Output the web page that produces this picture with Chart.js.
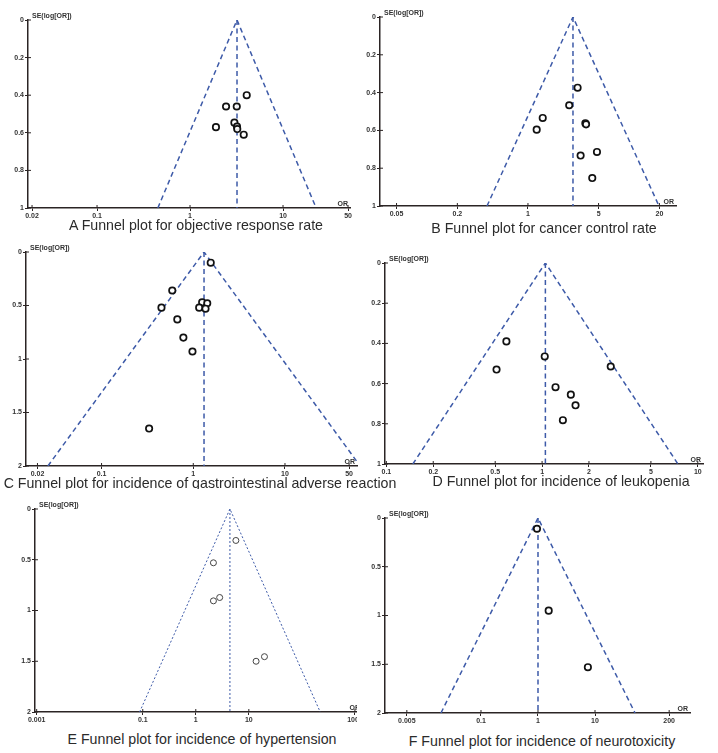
<!DOCTYPE html>
<html>
<head>
<meta charset="utf-8">
<script src="https://cdn.jsdelivr.net/npm/chart.js@4.4.1/dist/chart.umd.min.js"></script>
<style>
  body { margin: 0; background: #fff; }
  #page { position: relative; width: 718px; height: 753px; overflow: hidden; background: #fff; }
  canvas { position: absolute; }
  .cap { position: absolute; white-space: nowrap; transform: translate(-50%, -50%);
         font-family: "Liberation Sans", Arial, sans-serif; font-size: 14.2px; color: #2b2b2b; z-index: 1; }
</style>
</head>
<body>
<div id="page"></div>
<script>
// study estimates (OR, SE of log OR)
var orA = [4.07, 2.44, 3.18, 1.90, 3.00, 3.20, 3.22, 3.78];
var seA = [0.40, 0.46, 0.46, 0.57, 0.546, 0.567, 0.58, 0.61];

var orB = [3.10, 2.56, 1.40, 1.22, 3.70, 3.76, 3.32, 4.82, 4.33];
var seB = [0.374, 0.467, 0.534, 0.596, 0.562, 0.568, 0.733, 0.714, 0.852];

var orC = [1.55, 0.59, 0.45, 1.25, 1.42, 1.16, 1.36, 0.67, 0.78, 0.98, 0.33];
var seC = [0.10, 0.36, 0.52, 0.47, 0.48, 0.52, 0.53, 0.63, 0.80, 0.93, 1.65];

var orD = [0.59, 0.51, 1.04, 2.76, 1.22, 1.53, 1.64, 1.36];
var seD = [0.39, 0.53, 0.465, 0.515, 0.618, 0.655, 0.708, 0.782];

var orE = [5.7, 2.15, 2.15, 2.82, 13.7, 19.7];
var seE = [0.31, 0.53, 0.905, 0.872, 1.50, 1.455];

var orF = [0.96, 1.54, 7.5];
var seF = [0.11, 0.95, 1.53];

// pooled OR (apex of each funnel)
var pooledOR = [3.2, 2.79, 1.31, 1.05, 4.4, 1.0];

// axis ticks
var xTicksA = [0.02, 0.1, 1, 10, 50];
var xTicksB = [0.05, 0.2, 1, 5, 20];
var xTicksC = [0.02, 0.1, 1, 10, 50];
var xTicksD = [0.1, 0.2, 0.5, 1, 2, 5, 10];
var xTicksE = [0.001, 0.1, 1, 10, 1000];
var xTicksF = [0.005, 0.1, 1, 10, 200];
var seMax = [1, 1, 2, 1, 2, 2];
var seStep = [0.2, 0.2, 0.5, 0.2, 0.5, 0.5];

var captions = [
  "A Funnel plot for objective response rate",
  "B Funnel plot for cancer control rate",
  "C Funnel plot for incidence of gastrointestinal adverse reaction",
  "D Funnel plot for incidence of leukopenia",
  "E Funnel plot for incidence of hypertension",
  "F Funnel plot for incidence of neurotoxicity"
];

// layout of each panel (page pixels for the plot area)
var panels = [
  { or: orA, se: seA, xt: xTicksA, box: [28, 20, 350, 208], xmin: 0.0181, xmax: 52.5, cap: [196, 225], padT: 14, z: 0 },
  { or: orB, se: seB, xt: xTicksB, box: [380, 17, 676, 206], xmin: 0.0343, xmax: 29.2, cap: [544, 228], padT: 14, z: 0 },
  { or: orC, se: seC, xt: xTicksC, box: [26, 252, 357, 466], xmin: 0.015, xmax: 61, cap: [200, 483], padT: 14, z: 0 },
  { or: orD, se: seD, xt: xTicksD, box: [385, 263, 703, 464], xmin: 0.098, xmax: 10.8, cap: [561, 481], padT: 14, z: 0 },
  { or: orE, se: seE, xt: xTicksE, box: [35, 509, 362, 712], xmin: 0.00093, xmax: 1360, cap: [202, 739], padT: 20, z: 2, thin: true },
  { or: orF, se: seF, xt: xTicksF, box: [385, 518, 690, 713], xmin: 0.00207, xmax: 464, cap: [542, 741], padT: 14, z: 3 }
];

var axisColor = '#2b2424';
var funnelColor = '#3d5aa8';
var tickFont = { family: 'Liberation Sans', size: 7, weight: 'bold' };

var axisDecor = {
  id: 'axisDecor',
  afterDraw: function(chart) {
    var ctx = chart.ctx, a = chart.chartArea;
    var xs = chart.scales.x, ys = chart.scales.y;
    ctx.save();
    ctx.strokeStyle = axisColor;
    ctx.lineWidth = 1;
    xs.ticks.forEach(function(t) {
      var px = xs.getPixelForValue(t.value);
      ctx.beginPath(); ctx.moveTo(px, a.bottom); ctx.lineTo(px, a.bottom - 3); ctx.stroke();
    });
    ys.ticks.forEach(function(t) {
      var py = ys.getPixelForValue(t.value);
      ctx.beginPath(); ctx.moveTo(a.left, py); ctx.lineTo(a.left + 3, py); ctx.stroke();
    });
    ctx.fillStyle = '#333';
    ctx.font = 'bold 7px "Liberation Sans"';
    ctx.textAlign = 'left';
    ctx.textBaseline = 'alphabetic';
    ctx.fillText('SE(log[OR])', a.left + 4, a.top - 2);
    ctx.textAlign = 'right';
    ctx.fillText('OR', a.right - 2, a.bottom - 2);
    ctx.restore();
  }
};

var page = document.getElementById('page');

panels.forEach(function(p, i) {
  var padL = 2, yW = 26, padR = 14, xH = 13, padB = 2;
  var cl = p.box[0] - yW - padL, ct = p.box[1] - p.padT;
  var w = p.box[2] - p.box[0] + yW + padL + padR;
  var h = p.box[3] - p.box[1] + p.padT + xH + padB;

  var cv = document.createElement('canvas');
  cv.width = w; cv.height = h;
  cv.style.left = cl + 'px'; cv.style.top = ct + 'px';
  cv.style.zIndex = p.z;
  if (p.z > 0) cv.style.background = '#fff';
  page.appendChild(cv);

  var cap = document.createElement('div');
  cap.className = 'cap';
  cap.textContent = captions[i];
  cap.style.left = p.cap[0] + 'px'; cap.style.top = p.cap[1] + 'px';
  page.appendChild(cap);

  var pooled = pooledOR[i], sm = seMax[i], k = Math.exp(1.96 * sm);
  var pts = p.or.map(function(v, j) { return { x: v, y: p.se[j] }; });

  new Chart(cv, {
    type: 'scatter',
    data: {
      datasets: [
        {
          data: pts,
          pointRadius: p.thin ? 3 : 3.2,
          pointBorderWidth: p.thin ? 1 : 1.7,
          pointBorderColor: p.thin ? '#444' : '#111',
          pointBackgroundColor: 'rgba(255,255,255,0.9)'
        },
        {
          data: [{ x: pooled / k, y: sm }, { x: pooled, y: 0 }, { x: pooled * k, y: sm }],
          showLine: true, pointRadius: 0,
          borderColor: funnelColor,
          borderWidth: p.thin ? 1 : 1.5,
          borderDash: p.thin ? [2, 2] : [5, 3.5]
        },
        {
          data: [{ x: pooled, y: 0 }, { x: pooled, y: sm }],
          showLine: true, pointRadius: 0,
          borderColor: funnelColor,
          borderWidth: p.thin ? 1 : 1.5,
          borderDash: p.thin ? [2, 2] : [5, 3.5]
        }
      ]
    },
    options: {
      responsive: false,
      animation: false,
      events: [],
      layout: { padding: { left: padL, right: padR, top: p.padT, bottom: padB } },
      plugins: { legend: { display: false }, tooltip: { enabled: false } },
      scales: {
        x: {
          type: 'logarithmic',
          min: p.xmin, max: p.xmax,
          afterBuildTicks: function(s) { s.ticks = p.xt.map(function(v) { return { value: v }; }); },
          afterFit: function(s) { s.height = xH; },
          ticks: {
            autoSkip: false, maxRotation: 0, padding: 1,
            color: '#333', font: tickFont,
            callback: function(v, idx) { return String(p.xt[idx]); }
          },
          grid: { display: true, drawOnChartArea: false, tickLength: 3, color: axisColor, lineWidth: 1 },
          border: { display: true, color: axisColor, width: 1.5 }
        },
        y: {
          type: 'linear',
          reverse: true,
          min: 0, max: sm,
          afterFit: function(s) { s.width = yW; },
          ticks: {
            stepSize: seStep[i], padding: 1,
            color: '#333', font: tickFont,
            callback: function(v) { return String(+v.toFixed(2)); }
          },
          grid: { display: true, drawOnChartArea: false, tickLength: 3, color: axisColor, lineWidth: 1 },
          border: { display: true, color: axisColor, width: 1.5 }
        }
      }
    },
    plugins: [axisDecor]
  });
});
</script>
</body>
</html>
